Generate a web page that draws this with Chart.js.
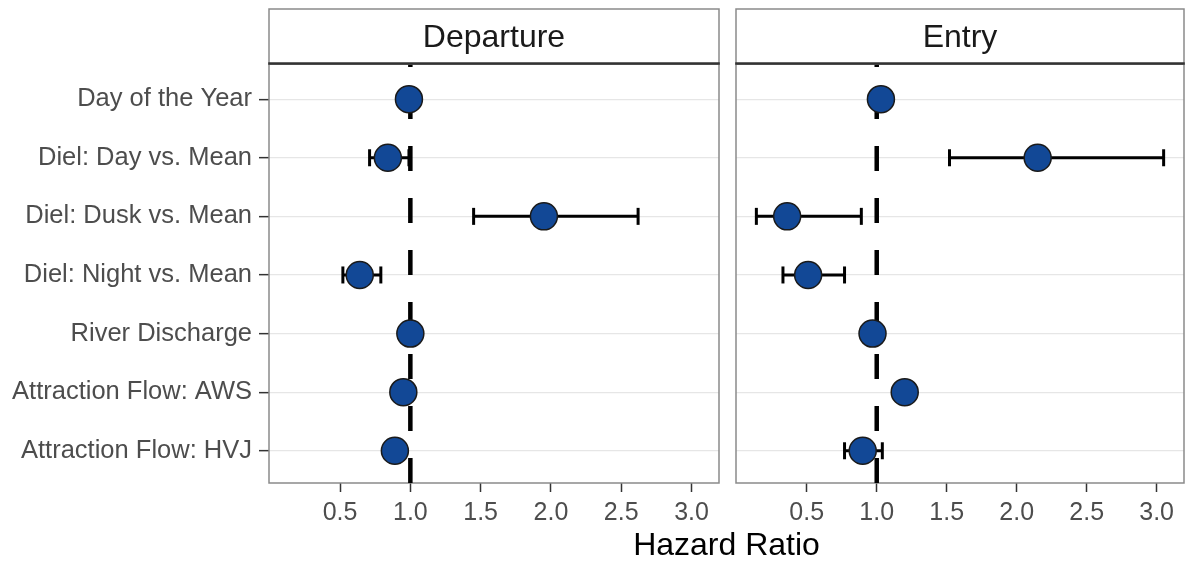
<!DOCTYPE html>
<html>
<head>
<meta charset="utf-8">
<script src="https://cdn.jsdelivr.net/npm/chart.js@4.4.1/dist/chart.umd.min.js"></script>
<style>
  body { margin: 0; background: #fff; }
  #wrap { position: relative; width: 1193px; height: 562px; overflow: hidden; }
  canvas { position: absolute; top: 0; }
  #dep { left: 0; }
  #ent { left: 727px; }
  #xtitle {
    position: absolute; left: 426.5px; width: 600px; top: 528px;
    text-align: center; font: 32px 'Liberation Sans', Arial, sans-serif;
    line-height: 32px; color: #000;
  }
</style>
</head>
<body>
<div id="wrap">
  <canvas id="dep" width="727" height="562"></canvas>
  <canvas id="ent" width="466" height="562"></canvas>
  <div id="xtitle">Hazard Ratio</div>
</div>
<script>
const rows = [
  'Day of the Year',
  'Diel: Day vs. Mean',
  'Diel: Dusk vs. Mean',
  'Diel: Night vs. Mean',
  'River Discharge',
  'Attraction Flow: AWS',
  'Attraction Flow: HVJ'
];

// hazard ratios with lower / upper confidence limits
const depHR = [0.99, 0.84, 1.95, 0.64, 1.00, 0.95, 0.89];
const depLo = [0.97, 0.71, 1.45, 0.52, 0.98, 0.92, 0.86];
const depHi = [1.01, 0.99, 2.62, 0.79, 1.02, 0.98, 0.93];

const entHR = [1.03, 2.15, 0.36, 0.51, 0.97, 1.20, 0.90];
const entLo = [1.01, 1.52, 0.14, 0.33, 0.95, 1.17, 0.77];
const entHi = [1.05, 3.05, 0.89, 0.77, 0.99, 1.23, 1.04];

const xTicks = [0.5, 1.0, 1.5, 2.0, 2.5, 3.0];
const refHR = 1;

const FONT = "'Liberation Sans', Arial, sans-serif";
Chart.defaults.font.family = FONT;

// shared x range with 5% padding on each side
const allLo = Math.min(...depLo, ...entLo);
const allHi = Math.max(...depHi, ...entHi);
const pad = (allHi - allLo) * 0.05;
const xMin = allLo - pad, xMax = allHi + pad;
const yMin = 0.4, yMax = rows.length + 0.55;

function toPoints(hr) {
  return hr.map((v, i) => ({ x: v, y: i + 1 }));
}

// one segment per row, broken by a null point
function toBars(lo, hi) {
  const out = [];
  lo.forEach((v, i) => {
    out.push({ x: v, y: i + 1 }, { x: hi[i], y: i + 1 }, { x: null, y: null });
  });
  return out;
}

const panelFrame = {
  id: 'panelFrame',
  beforeDatasetsDraw(chart) {
    const { ctx, chartArea: a } = chart;
    ctx.save();
    ctx.strokeStyle = '#8a8a8a';
    ctx.lineWidth = 1.5;
    ctx.strokeRect(a.left, a.top, a.right - a.left, a.bottom - a.top);
    ctx.restore();
  },
  afterDraw(chart, args, opts) {
    const { ctx, chartArea: a } = chart;
    ctx.save();
    ctx.strokeStyle = '#8a8a8a';
    ctx.lineWidth = 1.5;
    ctx.strokeRect(a.left, 9, a.right - a.left, a.top - 9);
    ctx.strokeStyle = '#333';
    ctx.lineWidth = 2.5;
    ctx.beginPath();
    ctx.moveTo(a.left - 0.75, a.top - 0.5);
    ctx.lineTo(a.right + 0.75, a.top - 0.5);
    ctx.stroke();
    ctx.fillStyle = '#1a1a1a';
    ctx.font = '32px ' + FONT;
    ctx.textAlign = 'center';
    ctx.textBaseline = 'alphabetic';
    ctx.fillText(opts.label, (a.left + a.right) / 2, 47);
    ctx.restore();
  }
};

function makePanel(id, label, hr, lo, hi, showY, padding) {
  return new Chart(document.getElementById(id), {
    type: 'scatter',
    data: {
      datasets: [
        {
          data: toPoints(hr),
          backgroundColor: '#124896',
          borderColor: '#1a1a1a',
          borderWidth: 1.5,
          pointRadius: 13.5,
          order: 0
        },
        {
          type: 'line',
          data: toBars(lo, hi),
          borderColor: '#000',
          borderWidth: 3,
          pointStyle: 'line',
          pointRotation: 90,
          pointRadius: 8.5,
          pointBorderWidth: 3,
          pointBorderColor: '#000',
          spanGaps: false,
          clip: 0,
          order: 1
        },
        {
          type: 'line',
          data: [{ x: refHR, y: yMax }, { x: refHR, y: yMin }],
          borderColor: '#000',
          borderWidth: 4.5,
          borderDash: [25, 27],
          pointRadius: 0,
          clip: 0,
          order: 2
        }
      ]
    },
    options: {
      responsive: false,
      animation: false,
      events: [],
      layout: { padding: padding, autoPadding: false },
      plugins: {
        legend: { display: false },
        tooltip: { enabled: false },
        panelFrame: { label: label }
      },
      scales: {
        x: {
          type: 'linear',
          min: xMin,
          max: xMax,
          afterBuildTicks: s => { s.ticks = xTicks.map(v => ({ value: v })); },
          afterFit: s => {
            s.height = 79;
            s.paddingLeft = 0;
            s.paddingRight = 0;
          },
          border: { display: false },
          grid: { drawOnChartArea: false, tickLength: 9, tickColor: '#333', tickWidth: 1.5 },
          ticks: {
            padding: 6,
            color: '#4d4d4d',
            font: { size: 25 },
            maxRotation: 0,
            autoSkip: false,
            callback: v => v.toFixed(1)
          }
        },
        y: {
          type: 'linear',
          min: yMin,
          max: yMax,
          reverse: true,
          afterBuildTicks: s => { s.ticks = rows.map((r, i) => ({ value: i + 1 })); },
          afterFit: s => {
            s.width = showY ? 269 : 0;
            s.paddingTop = 0;
            s.paddingBottom = 0;
          },
          border: { display: false },
          grid: {
            color: '#e6e6e6',
            lineWidth: 1.3,
            drawTicks: showY,
            tickLength: 10,
            tickColor: '#333',
            tickWidth: 1.5
          },
          ticks: {
            display: showY,
            padding: 7,
            color: '#4d4d4d',
            font: { size: 25.5 },
            callback: v => rows[Math.round(v) - 1]
          }
        }
      }
    },
    plugins: [panelFrame]
  });
}

makePanel('dep', 'Departure', depHR, depLo, depHi, true, { top: 64, right: 8, left: 0, bottom: 0 });
makePanel('ent', 'Entry', entHR, entLo, entHi, false, { top: 64, right: 9, left: 9, bottom: 0 });
</script>
</body>
</html>
